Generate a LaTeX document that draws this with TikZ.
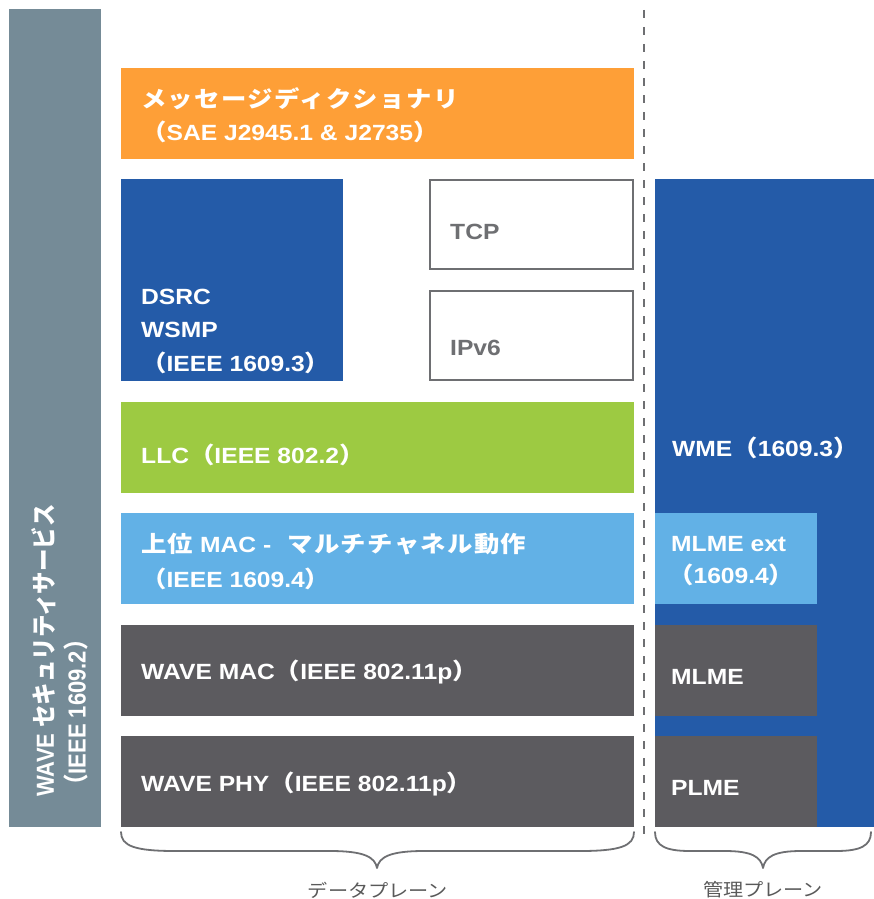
\documentclass[tikz,border=0pt]{standalone}
\usepackage{fontspec}
\setmainfont{Liberation Sans}[FakeStretch=1.12]
\newfontfamily\jpf{Noto Sans CJK JP}[FakeStretch=1.12, Scale=1.03, LetterSpace=6]
\newfontfamily\jpl{Noto Sans CJK JP}[FakeStretch=1.12]
\newfontfamily\latv{Liberation Sans}
\newfontfamily\jpv{Noto Sans CJK JP}[Scale=1.02]
\newcommand{\jpt}[1]{{\jpf #1}}
\newcommand{\jpvt}[1]{{\jpv #1}}
\definecolor{leftbar}{HTML}{758B97}
\definecolor{orng}{HTML}{FE9F37}
\definecolor{dblue}{HTML}{245BA8}
\definecolor{grn}{HTML}{9DCA42}
\definecolor{lblue}{HTML}{62B1E6}
\definecolor{dgray}{HTML}{5C5B5F}
\definecolor{outl}{HTML}{6E6F72}
\definecolor{lbl}{HTML}{595959}
\begin{document}
\begin{tikzpicture}[x=1pt,y=1pt,
  box/.style={rectangle, inner sep=0pt, outer sep=0pt, anchor=north west, draw=none, minimum height=91pt},
  obox/.style={rectangle, inner sep=0pt, outer sep=0pt, anchor=north west, fill=white, draw=outl, line width=2pt, minimum width=203pt, minimum height=89pt},
  txt/.style={anchor=base west, inner sep=0pt, text=white, font=\bfseries\fontsize{22}{26}\selectfont},
  gtxt/.style={txt, text=outl},
  vtxt/.style={anchor=west, rotate=90, inner sep=0pt, text=white, font=\bfseries\fontsize{22}{26}\selectfont},
  divline/.style={draw=outl, line width=2.5pt, dash pattern=on 8pt off 9pt},
  bracestyle/.style={draw=outl, line width=1.8pt, line cap=round, line join=round},
  plane/.style={text=lbl, inner sep=0pt, font=\jpl\fontsize{18}{22}\selectfont}
]
\useasboundingbox (0,0) rectangle (874,-899);

% boxes
\node[box, fill=leftbar, minimum width=92pt, minimum height=818pt] (sec) at (9,-9) {};
\node[box, fill=orng, minimum width=513pt] (msg) at (121,-68) {};
\node[box, fill=dblue, minimum width=222pt, minimum height=202pt] (dsrc) at (121,-179) {};
\node[obox] (tcp) at (430,-180) {};
\node[obox] (ipv6) at (430,-291) {};
\node[box, fill=grn, minimum width=513pt] (llc) at (121,-402) {};
\node[box, fill=lblue, minimum width=513pt] (umac) at (121,-513) {};
\node[box, fill=dgray, minimum width=513pt] (wmac) at (121,-625) {};
\node[box, fill=dgray, minimum width=513pt] (wphy) at (121,-736) {};
\node[box, fill=dblue, minimum width=219pt, minimum height=648pt] (wme) at (655,-179) {};
\node[box, fill=lblue, minimum width=162pt] (mlmeext) at (655,-513) {};
\node[box, fill=dgray, minimum width=162pt] (mlme) at (655,-625) {};
\node[box, fill=dgray, minimum width=162pt] (plme) at (655,-736) {};

% texts
\node[txt] (msg1) at (141,-107) {\jpt{メッセージディクショナリ}};
\node[txt] (msg2) at (141,-140) {\jpt{（}SAE J2945.1 \& J2735\jpt{）}};
\node[txt] (dsrc1) at (141,-304) {DSRC};
\node[txt] (dsrc2) at (141,-337) {WSMP};
\node[txt] (dsrc3) at (141,-371) {\jpt{（}IEEE 1609.3\jpt{）}};
\node[gtxt] (tcpt) at (450,-239) {TCP};
\node[gtxt] (ipv6t) at (450,-355) {IPv6};
\node[txt] (llct) at (141,-463) {LLC\jpt{（}IEEE 802.2\jpt{）}};
\node[txt] (umac1) at (141,-552) {\jpt{上位} MAC -\hspace{16pt}\jpt{マルチチャネル動作}};
\node[txt] (umac2) at (141,-587) {\jpt{（}IEEE 1609.4\jpt{）}};
\node[txt] (wmact) at (141,-679) {WAVE MAC\jpt{（}IEEE 802.11p\jpt{）}};
\node[txt] (wphyt) at (141,-791) {WAVE PHY\jpt{（}IEEE 802.11p\jpt{）}};
\node[txt] (wmet) at (672,-456) {WME\jpt{（}1609.3\jpt{）}};
\node[txt] (mlmeext1) at (671,-551) {MLME ext};
\node[txt] (mlmeext2) at (668,-583) {\jpt{（}1609.4\jpt{）}};
\node[txt] (mlmet) at (671,-684) {MLME};
\node[txt] (plmet) at (671,-795) {PLME};

% vertical texts
\node[vtxt] (sec1) at (44,-797) {\scalebox{1}[1.12]{\latv WAVE \jpvt{セキュリティサービス}}};
\node[vtxt] (sec2) at (76,-797) {\scalebox{1}[1.12]{\jpvt{（}\latv IEEE 1609.2\jpvt{）}}};

% divider
\coordinate (dtop) at (644,-10);
\coordinate (dbot) at (644,-842);
\draw[divline] (dtop) -- (dbot);

% braces
\coordinate (b1l) at (121,-832);
\coordinate (b1t) at (377,-868);
\coordinate (b1r) at (634,-832);
\draw[bracestyle] (b1l) .. controls (121,-846) and (135,-851) .. (175,-851) -- (330,-851)
  .. controls (364,-851) and (375,-857) .. (b1t)
  .. controls (379,-857) and (390,-851) .. (424,-851) -- (580,-851)
  .. controls (620,-851) and (634,-846) .. (b1r);
\coordinate (b2l) at (655,-832);
\coordinate (b2t) at (763,-868);
\coordinate (b2r) at (871,-832);
\draw[bracestyle] (b2l) .. controls (655,-846) and (666,-851) .. (690,-851) -- (725,-851)
  .. controls (752,-851) and (761,-857) .. (b2t)
  .. controls (765,-857) and (774,-851) .. (801,-851) -- (836,-851)
  .. controls (860,-851) and (871,-846) .. (b2r);

\node[plane] (dplane) at (378,-890) {データプレーン};
\node[plane] (mplane) at (763,-890) {管理プレーン};
\end{tikzpicture}
\end{document}
